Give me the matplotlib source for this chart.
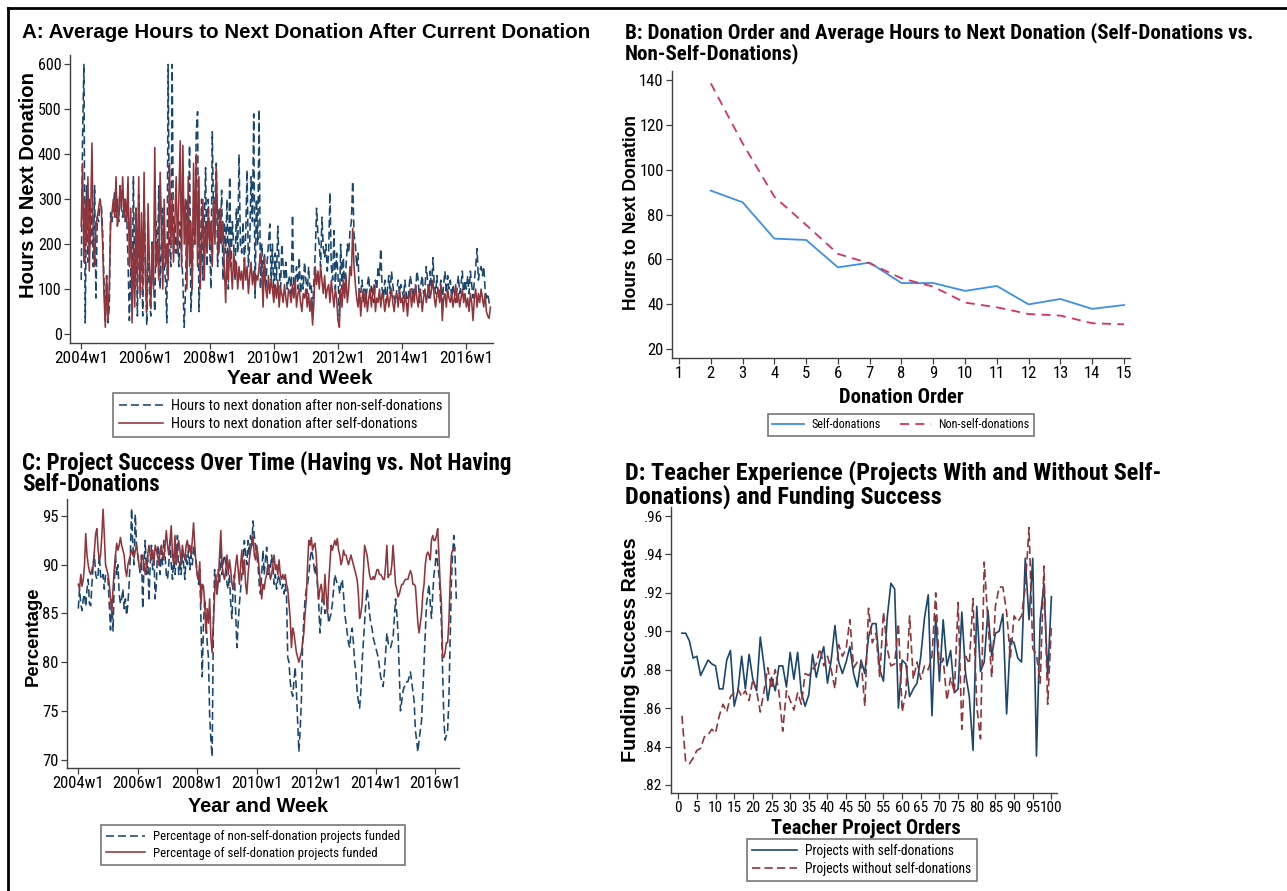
import numpy as np
import matplotlib
matplotlib.use("Agg")
import matplotlib.pyplot as plt
from matplotlib.lines import Line2D
from matplotlib.ticker import FuncFormatter
from matplotlib import font_manager as fm

W, H = 1287, 891
NAVY = "#1a476f"
MAROON = "#90353b"
BBLUE = "#3d8fe8"
BPINK = "#d9305c"
AXC = "#404040"

_names = {f.name for f in fm.fontManager.ttflist}
_stretch = {(f.name, f.stretch) for f in fm.fontManager.ttflist}
NSTRETCH = "normal"
if "Liberation Sans Narrow" in _names:
    NARROW, NF = "Liberation Sans Narrow", 1.0
elif "Roboto Condensed" in _names:
    NARROW, NF = "Roboto Condensed", 1.0
elif "Open Sans Condensed" in _names:
    NARROW, NF = "Open Sans Condensed", 1.0
elif any(n == "DejaVu Sans" and s in ("condensed", 75, "semi-condensed") for n, s in _stretch):
    NARROW, NF, NSTRETCH = "DejaVu Sans", 0.92, "condensed"
else:
    NARROW, NF = "Roboto", 0.9
REG = "Liberation Sans"
plt.rcParams["font.family"] = [REG, "DejaVu Sans"]

# ---------------- Panel A data (semi-monthly, 24 per year, from 2004w1) ----------------
a_year_ticks = [2004, 2006, 2008, 2010, 2012, 2014, 2016]
a_tick_labels = ["2004w1", "2006w1", "2008w1", "2010w1", "2012w1", "2014w1", "2016w1"]
a_nonself = [
    120, 440, 600, 25, 330, 160, 300, 200, 280, 150, 330, 80, 260, 250, 300, 290, 230, 120, 30, 130, 25, 60, 270, 250,
    280, 320, 260, 300, 250, 330, 280, 260, 300, 250, 270, 160, 30, 150, 60, 350, 100, 280, 40, 310, 120, 200, 40, 300,
    150, 20, 200, 100, 40, 210, 120, 50, 250, 160, 330, 100, 200, 280, 150, 120, 25, 600, 200, 150, 600, 180, 250, 180,
    220, 150, 250, 180, 120, 15, 100, 300, 200, 420, 50, 120, 280, 200, 450, 495, 50, 150, 300, 120, 250, 370, 150, 300,
    200, 100, 450, 250, 300, 380, 150, 280, 200, 320, 120, 250, 180, 300, 100, 350, 150, 250, 200, 120, 280, 180, 400, 200,
    180, 250, 160, 220, 365, 150, 200, 350, 250, 490, 80, 300, 200, 500, 100, 200, 120, 180, 100, 160, 200, 245, 120, 200,
    80, 180, 120, 240, 150, 90, 200, 150, 120, 160, 100, 120, 130, 90, 265, 80, 120, 150, 100, 170, 90, 130, 100, 160,
    120, 90, 150, 100, 110, 40, 120, 180, 280, 220, 200, 150, 260, 190, 170, 200, 140, 180, 315, 150, 120, 230, 100, 180,
    130, 40, 200, 100, 170, 90, 150, 200, 180, 230, 250, 340, 220, 200, 150, 180, 70, 90, 120, 70, 100, 80, 110, 130,
    80, 110, 90, 70, 120, 100, 150, 130, 190, 100, 80, 120, 70, 100, 130, 90, 140, 110, 80, 70, 100, 120, 90, 110,
    100, 80, 120, 90, 60, 100, 130, 110, 80, 100, 90, 140, 120, 70, 110, 130, 90, 100, 150, 120, 80, 140, 100, 170,
    110, 90, 130, 80, 100, 120, 70, 110, 140, 90, 130, 100, 120, 80, 110, 90, 70, 100, 130, 90, 110, 140, 80, 120,
    100, 130, 90, 140, 110, 80, 120, 150, 190, 120, 140, 150, 130, 150, 100, 80, 90, 70, 60,
]
a_self = [
    240, 380, 160, 300, 200, 350, 140, 250, 425, 220, 150, 240, 260, 280, 300, 280, 200, 90, 15, 130, 30, 110, 250, 270,
    300, 260, 350, 240, 260, 330, 280, 350, 260, 300, 250, 350, 150, 280, 25, 200, 60, 280, 100, 350, 80, 270, 100, 360,
    120, 50, 290, 150, 60, 200, 100, 415, 150, 200, 120, 360, 250, 100, 300, 150, 200, 120, 380, 200, 300, 160, 250, 350,
    180, 300, 430, 150, 420, 200, 300, 100, 350, 150, 250, 100, 380, 200, 400, 150, 350, 100, 200, 300, 120, 250, 180, 280,
    200, 250, 150, 300, 200, 370, 250, 180, 280, 200, 250, 150, 70, 180, 120, 200, 150, 100, 180, 130, 160, 100, 150, 120,
    140, 100, 170, 120, 150, 90, 130, 160, 110, 140, 100, 130, 120, 150, 180, 140, 60, 170, 100, 80, 130, 90, 120, 100,
    70, 110, 80, 120, 60, 100, 90, 70, 110, 80, 60, 100, 90, 70, 110, 80, 120, 60, 90, 100, 70, 50, 90, 80,
    100, 60, 90, 50, 80, 20, 70, 150, 110, 140, 100, 150, 120, 90, 130, 80, 100, 110, 70, 120, 90, 60, 100, 80,
    30, 15, 100, 60, 120, 80, 130, 70, 100, 150, 130, 235, 150, 110, 80, 60, 100, 40, 80, 100, 60, 90, 50, 80,
    100, 60, 90, 110, 50, 80, 70, 100, 60, 90, 80, 50, 70, 90, 60, 80, 100, 70, 50, 80, 90, 60, 100, 70,
    80, 50, 90, 70, 40, 80, 100, 60, 90, 70, 110, 80, 60, 100, 90, 50, 80, 100, 70, 90, 110, 80, 100, 120,
    80, 60, 90, 100, 70, 110, 30, 80, 90, 60, 100, 80, 70, 90, 60, 80, 110, 70, 90, 60, 80, 100, 70, 90,
    60, 80, 50, 90, 70, 30, 80, 100, 60, 90, 70, 100, 80, 60, 90, 50, 40, 35, 60,
]

# ---------------- Panel B data ----------------
b_order = [2, 3, 4, 5, 6, 7, 8, 9, 10, 11, 12, 13, 14, 15]
b_self = [90.7, 85.5, 69.3, 68.7, 56.5, 58.6, 49.5, 49.5, 46.0, 48.2, 40.0, 42.4, 38.0, 39.7]
b_nonself = [138.5, 111.8, 88.0, 75.4, 62.5, 58.3, 51.6, 47.9, 40.8, 38.7, 35.7, 35.0, 31.6, 31.1]

# ---------------- Panel C data (semi-monthly) ----------------
c_nonself = [
    85.5, 87.5, 86, 85.3, 86.5, 87, 85.7, 87.5, 88.5, 86, 85.8, 88, 90, 91, 89, 88.5, 89, 91, 88.8, 88.5, 89, 87.5, 89, 88.8,
    88.5, 86, 83.3, 86.5, 83.2, 88, 91, 89, 90, 87, 86, 86.5, 87.5, 85.5, 86.5, 84.8, 86, 88, 91, 95.8, 92, 90, 95.2, 92,
    91, 90, 89, 91, 85.5, 90, 92.5, 89, 91, 86.3, 90, 92, 89.5, 91, 86.5, 88, 92, 91, 89, 91.5, 90, 92.5, 91, 89,
    88.5, 90, 92.5, 90, 88.5, 91, 89, 90.5, 93, 89, 90.5, 89, 91.5, 90, 88.5, 91, 90, 92, 89.5, 91, 90, 92, 91, 90.5,
    89, 88, 89.5, 84, 78.5, 84, 86.5, 84.5, 82, 80.5, 74.5, 72, 70.3, 84, 89.5, 88, 87, 89.5, 88, 91.8, 89, 90.5, 91, 90,
    88, 87.5, 89, 86, 84.5, 88, 89, 85, 81.5, 84, 86, 87.5, 89, 90.5, 92.5, 91, 90, 92.5, 91, 93, 92, 94.5, 93, 92,
    91, 90, 88, 87, 89, 91.5, 89, 90.5, 91.8, 89, 90, 89.5, 91, 90, 88, 89, 87.5, 88.5, 89, 88, 87.5, 88, 87, 88,
    87, 80.5, 80, 78, 77, 76.5, 78, 79.5, 77, 74, 70.8, 73, 76, 82, 84.5, 86.5, 87.5, 88, 89, 90.5, 91.5, 91, 90, 89,
    90, 88, 86, 83, 85, 87, 86.5, 85, 85.5, 86, 84, 84.5, 85, 86, 87.5, 89, 88.5, 88, 88, 87, 88, 88.5, 87, 85,
    84, 83, 82, 81.5, 83, 83.5, 82, 80, 79, 77, 76, 75.3, 77, 80, 82, 84, 86, 87.5, 86.5, 85, 84, 83.5, 82.5, 82,
    81.5, 81, 80.5, 79.5, 78.5, 78, 77.5, 79, 81, 83, 82, 81.5, 81.5, 82, 82.5, 84.5, 86.5, 85, 83, 79, 75, 76, 77, 77.5,
    77.5, 78, 78, 78.5, 79, 78, 77, 76, 73, 72, 70.8, 72, 73, 74, 77, 80, 83, 86, 87, 88, 86, 84.5, 87, 89,
    90, 91.5, 90, 89, 87, 84, 79, 74, 72, 72.5, 73, 76, 82, 88, 91, 93, 91, 86.5,
]
c_self = [
    88, 87.5, 89, 87.8, 88.5, 90, 93.2, 91, 90, 89.3, 89, 89.5, 90, 91.5, 93.2, 93.7, 91.5, 90.5, 91, 93, 95.7, 93, 90, 89.5,
    89, 88, 86.5, 85, 87.5, 89.5, 91, 92.2, 91.5, 92, 92.8, 92, 91.5, 91, 89.5, 88.8, 90, 90.5, 91, 91.5, 91, 90.8, 91.5, 92,
    91, 90, 89.5, 90.5, 91, 90, 89, 90, 91, 92, 91, 90.5, 91.5, 90, 92, 91.5, 91, 90, 91.5, 92, 91, 90.5, 92, 93.5,
    92, 91, 92.5, 94, 91, 90, 93, 90, 91.5, 92.5, 91.5, 90, 92, 91, 90.5, 92, 92.5, 91.5, 92, 91, 92.5, 94.3, 92, 90,
    89, 88.5, 90.3, 86, 88, 87.8, 86, 83, 85.5, 84, 86.5, 82.5, 81, 84, 87, 89, 87, 88.5, 91, 93.5, 90, 89, 88.5, 89.5,
    91, 89, 90.5, 89.5, 88, 87.5, 88.8, 90, 91, 89.5, 88, 90, 91.5, 89, 90.5, 88, 87, 89, 90.5, 91.5, 92, 93, 91, 90.5,
    92, 91, 89.5, 88, 86.5, 88, 87.5, 88.5, 89, 90, 89.5, 88.5, 89, 90, 91, 89.5, 90, 89, 90.5, 89, 88.5, 89, 88.5, 89,
    88, 87.5, 86, 84.5, 81.5, 83.5, 83, 82, 81, 80.5, 80, 80.5, 81, 82, 83, 85, 86.5, 90, 92.5, 92, 92.8, 91.5, 92, 92.2,
    91, 88, 86.5, 87.5, 88, 87, 86, 89, 87, 85, 88, 90, 92, 91.5, 92, 92.5, 92, 92.7, 91.5, 91, 90, 90.5, 91.5, 91,
    91, 90.5, 90, 90.5, 91, 90.5, 90, 89.5, 89, 88.5, 87, 84.5, 85, 86, 89, 92, 91.5, 91, 90, 89, 88.5, 88.5, 88.8, 88.5,
    89, 89.5, 89.5, 89, 89, 88.8, 88.5, 88.5, 90, 92, 88.7, 89, 89, 90, 92, 90, 88, 87.5, 86.7, 87, 87.5, 88, 88, 88.3,
    88.5, 88.5, 88.5, 89, 89.4, 89, 88, 88, 87.8, 86, 84, 83, 84, 85, 87, 88, 90, 91, 91.3, 91, 90.5, 92.5, 93, 92.5,
    92.5, 93, 93.7, 91, 88, 86, 80.5, 80.5, 81, 82, 82, 84, 88, 91, 91.5, 91.5, 91.7,
]

# ---------------- Panel D data ----------------
d_order = list(range(1, 101))
d_with_self = [
    .899, .899, .895, .886, .887, .877, .881, .885, .883, .882,
    .870, .870, .885, .890, .861, .869, .887, .870, .888, .875,
    .869, .897, .882, .864, .876, .869, .882, .882, .871, .889,
    .875, .889, .868, .861, .867, .888, .876, .885, .892, .873,
    .885, .903, .884, .878, .884, .892, .878, .871, .885, .878,
    .897, .904, .904, .880, .874, .907, .925, .922, .860, .885,
    .883, .866, .870, .873, .887, .907, .919, .856, .908, .874,
    .906, .882, .890, .868, .870, .910, .878, .866, .838, .913,
    .879, .884, .911, .887, .899, .900, .909, .857, .896, .894,
    .886, .884, .938, .906, .938, .835, .906, .925, .876, .918,
]
d_without_self = [
    .856, .832, .831, .834, .838, .839, .845, .846, .849, .847,
    .856, .862, .858, .866, .868, .870, .866, .869, .864, .875,
    .869, .858, .869, .881, .870, .880, .868, .848, .869, .864,
    .859, .868, .862, .878, .877, .880, .883, .891, .882, .887,
    .880, .870, .893, .887, .891, .906, .881, .884, .885, .861,
    .912, .894, .899, .876, .910, .891, .882, .883, .904, .858,
    .868, .908, .875, .884, .875, .882, .880, .887, .920, .880,
    .886, .864, .876, .868, .915, .849, .887, .883, .917, .861,
    .844, .936, .905, .876, .913, .923, .923, .910, .886, .908,
    .905, .908, .923, .954, .891, .888, .873, .934, .862, .903,
]


fig = plt.figure(figsize=(W / 100, H / 100), dpi=100)
fig.canvas.draw()
RENDERER = fig.canvas.get_renderer()


def add_ax(l, t, r, b):
    return fig.add_axes([l / W, 1 - b / H, (r - l) / W, (b - t) / H])


def style(ax, xfs=12, yfs=12):
    for s in ["top", "right"]:
        ax.spines[s].set_visible(False)
    for s in ["left", "bottom"]:
        ax.spines[s].set_color(AXC)
        ax.spines[s].set_linewidth(1.0)
    ax.tick_params(direction="out", length=4, width=0.9, color=AXC, pad=2)
    ax.tick_params(axis="x", labelsize=xfs * NF)
    ax.tick_params(axis="y", labelsize=yfs * NF)
    for lab in ax.get_xticklabels() + ax.get_yticklabels():
        lab.set_family([NARROW, "DejaVu Sans"])
        lab.set_stretch(NSTRETCH)


def fit(t, target, vertical=False):
    """Scale a text's font size so that its extent matches the target length in px."""
    for _ in range(2):
        bb = t.get_window_extent(RENDERER)
        cur = bb.height if vertical else bb.width
        if cur > 0:
            t.set_fontsize(t.get_fontsize() * target / cur)
    return t


def ftext(x, y, s, narrow=False, target=None, vertical=False, **kw):
    if narrow:
        kw["family"] = [NARROW, "DejaVu Sans"]
        kw["stretch"] = NSTRETCH
    t = fig.text(x / W, 1 - y / H, s, **kw)
    if target:
        fit(t, target, vertical)
    return t


def legend_box(ax, handles, labels, cx, cy, target_w, ncol=1, fs=12, hl=3.0):
    leg = None
    for _ in range(3):
        if leg is not None:
            leg.remove()
        leg = ax.legend(handles, labels, loc="center", bbox_to_anchor=(cx / W, 1 - cy / H),
                        bbox_transform=fig.transFigure, ncol=ncol, frameon=True, fancybox=False,
                        edgecolor="#555555", handlelength=hl, handletextpad=0.6,
                        borderpad=0.4, labelspacing=0.3, columnspacing=1.6,
                        prop={"family": [NARROW, "DejaVu Sans"], "stretch": NSTRETCH, "size": fs})
        leg.get_frame().set_linewidth(1.2)
        wcur = leg.get_window_extent(RENDERER).width
        fs = fs * target_w / wcur
    return leg


# ---------------- Panel A ----------------
axA = add_ax(70, 55, 493, 343)
xa_ns = 2004 + np.arange(len(a_nonself)) / 24
xa_s = 2004 + np.arange(len(a_self)) / 24
lA1, = axA.plot(xa_ns, a_nonself, color=NAVY, lw=1.15, dashes=(5, 2.5))
lA2, = axA.plot(xa_s, a_self, color=MAROON, lw=1.15)
axA.set_xlim(2003.65, 2016.83)
axA.set_ylim(-20, 621)
axA.set_yticks([0, 100, 200, 300, 400, 500, 600])
axA.set_xticks(a_year_ticks)
axA.set_xticklabels(a_tick_labels)
style(axA, xfs=12.5, yfs=11.5)
ftext(22, 33, "A: Average Hours to Next Donation After Current Donation", target=570,
      fontsize=15, fontweight="bold", va="center", ha="left")
ftext(300, 378, "Year and Week", target=145, fontsize=15, fontweight="bold",
      ha="center", va="center")
ftext(29, 185, "Hours to Next Donation", target=226, vertical=True, fontsize=15,
      fontweight="bold", ha="center", va="center", rotation=90)
legend_box(axA, [lA1, lA2], ["Hours to next donation after non-self-donations",
                             "Hours to next donation after self-donations"], 281, 415, 335, hl=3.0)

# ---------------- Panel B ----------------
axB = add_ax(672, 71, 1130, 358)
lB1, = axB.plot(b_order, b_self, color=BBLUE, lw=1.3)
lB2, = axB.plot(b_order, b_nonself, color=BPINK, lw=1.3, dashes=(5, 3.5))
axB.set_xlim(0.78, 15.19)
axB.set_ylim(16.1, 144)
axB.set_xticks(range(1, 16))
axB.set_yticks([20, 40, 60, 80, 100, 120, 140])
style(axB)
tB = ftext(625, 33, "B: Donation Order and Average Hours to Next Donation (Self-Donations vs.",
           narrow=True, target=625, fontsize=14, fontweight="bold", va="center", ha="left")
ftext(625, 54, "Non-Self-Donations)", narrow=True, fontsize=tB.get_fontsize(),
      fontweight="bold", va="center", ha="left")
ftext(901, 398, "Donation Order", narrow=True, target=125, fontsize=14, fontweight="bold",
      ha="center", va="center")
ftext(632, 213, "Hours to Next Donation", target=195, vertical=True, fontsize=13,
      fontweight="bold", ha="center", va="center", rotation=90)
legend_box(axB, [lB1, lB2], ["Self-donations", "Non-self-donations"], 901, 425, 265,
           ncol=2, hl=2.6)

# ---------------- Panel C ----------------
axC = add_ax(67, 499, 459, 768)
xc_ns = 2004 + np.arange(len(c_nonself)) / 24
xc_s = 2004 + np.arange(len(c_self)) / 24
lC1, = axC.plot(xc_ns, c_nonself, color=NAVY, lw=1.15, dashes=(5, 2.5))
lC2, = axC.plot(xc_s, c_self, color=MAROON, lw=1.15)
axC.set_xlim(2003.62, 2016.8)
axC.set_ylim(69.14, 96.75)
axC.set_yticks([70, 75, 80, 85, 90, 95])
axC.set_xticks(a_year_ticks)
axC.set_xticklabels(a_tick_labels)
style(axC, xfs=12, yfs=12)
tC = ftext(22, 463, "C: Project Success Over Time (Having vs. Not Having", narrow=True,
           target=490, fontsize=15, fontweight="bold", va="center", ha="left")
ftext(22, 485, "Self-Donations", narrow=True, fontsize=tC.get_fontsize(), fontweight="bold",
      va="center", ha="left")
ftext(258, 806, "Year and Week", target=140, fontsize=15, fontweight="bold",
      ha="center", va="center")
ftext(33, 636, "Percentage", target=100, vertical=True, fontsize=15, fontweight="bold",
      ha="center", va="center", rotation=90)
legend_box(axC, [lC1, lC2], ["Percentage of non-self-donation projects funded",
                             "Percentage of self-donation projects funded"], 253, 845, 305, hl=3.0)

# ---------------- Panel D ----------------
axD = add_ax(671, 507, 1057, 793)
lD1, = axD.plot(d_order, d_with_self, color=NAVY, lw=1.2)
lD2, = axD.plot(d_order, d_without_self, color=MAROON, lw=1.2, dashes=(5, 2.5))
axD.set_xlim(-1.93, 101.5)
axD.set_ylim(0.8158, 0.9647)
axD.set_xticks(range(0, 101, 5))
axD.set_yticks([.82, .84, .86, .88, .90, .92, .94, .96])
axD.yaxis.set_major_formatter(FuncFormatter(lambda v, p: f"{v:.2f}"[1:]))
style(axD, xfs=11, yfs=11)
tD = ftext(625, 473, "D: Teacher Experience (Projects With and Without Self-", narrow=True,
           target=535, fontsize=15.5, fontweight="bold", va="center", ha="left")
ftext(625, 497, "Donations) and Funding Success", narrow=True, fontsize=tD.get_fontsize(),
      fontweight="bold", va="center", ha="left")
ftext(866, 828, "Teacher Project Orders", narrow=True, target=190, fontsize=15.5,
      fontweight="bold", ha="center", va="center")
ftext(631, 650, "Funding Success Rates", target=225, vertical=True, fontsize=15,
      fontweight="bold", ha="center", va="center", rotation=90)
legend_box(axD, [lD1, lD2], ["Projects with self-donations", "Projects without self-donations"],
           862, 860, 230, hl=3.3)

# page border
fig.add_artist(Line2D([8 / W, 8 / W], [0, 1 - 8 / H], color="black", lw=2))
fig.add_artist(Line2D([8 / W, 1], [1 - 8 / H, 1 - 8 / H], color="black", lw=2))

fig.savefig("out.png", dpi=100, facecolor="white")
